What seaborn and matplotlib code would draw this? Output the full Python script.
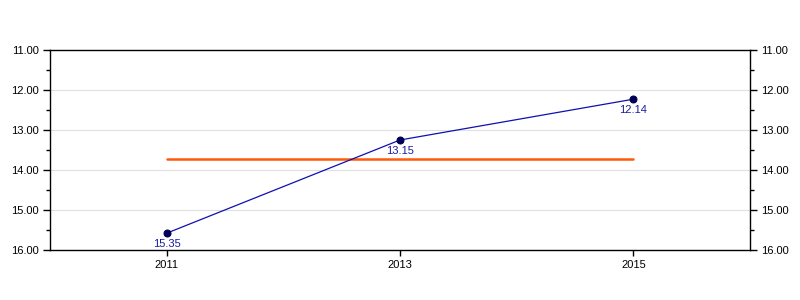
import matplotlib
matplotlib.use("Agg")
import matplotlib.pyplot as plt
import seaborn as sns
import pandas as pd
from matplotlib.ticker import MultipleLocator, FixedLocator

years = [2011, 2013, 2015]
values = [15.58, 13.25, 12.23]
value_labels = ["15.35", "13.15", "12.14"]
avg_value = 13.72
y_ticks = [11.0, 12.0, 13.0, 14.0, 15.0, 16.0]

sns.set_theme(style="white")
plt.rcParams['font.family'] = ['Liberation Sans', 'DejaVu Sans']

fig = plt.figure(figsize=(8, 3), dpi=100)
ax = fig.add_axes([50/800, 50/300, 700/800, 200/300])

df = pd.DataFrame({"year": years, "value": values})
avg_df = pd.DataFrame({"year": [years[0], years[-1]], "value": [avg_value, avg_value]})

for t in [12, 13, 14, 15]:
    ax.axhline(t, color="#e0e0e0", lw=0.8, zorder=0)

sns.lineplot(data=avg_df, x="year", y="value", ax=ax, color="#FF5A0A", lw=1.8, zorder=2)
sns.lineplot(data=df, x="year", y="value", ax=ax, color="#1010B0", lw=0.9,
             marker="o", markersize=5, markerfacecolor="#000060",
             markeredgecolor="#000040", zorder=3)

for x, y, lab in zip(years, values, value_labels):
    ax.annotate(lab, (x, y), xytext=(0, -4), textcoords="offset points",
                ha="center", va="top", fontsize=8, color="#1a1aa0")

ax.set_xlim(2010, 2016)
ax.set_ylim(16, 11)
ax.xaxis.set_major_locator(FixedLocator(years))
ax.set_xticklabels([str(y) for y in years])
ax.yaxis.set_major_locator(FixedLocator(y_ticks))
ax.yaxis.set_minor_locator(MultipleLocator(0.5))
ax.set_yticklabels([f"{t:.2f}" for t in y_ticks])
ax.set_xlabel("")
ax.set_ylabel("")
ax.grid(False)

for s in ax.spines.values():
    s.set_visible(True)
    s.set_color("black")
    s.set_linewidth(1)

ax.tick_params(axis="y", which="major", left=True, right=True, labelleft=True,
               labelright=True, length=5, width=1, color="black", labelcolor="black",
               labelsize=8, pad=3)
ax.tick_params(axis="y", which="minor", left=True, right=True, length=3, width=1, color="black")
ax.tick_params(axis="x", which="major", bottom=True, length=4, width=1, color="black",
               labelcolor="black", labelsize=8, pad=3)

fig.savefig("out.png", dpi=100)
